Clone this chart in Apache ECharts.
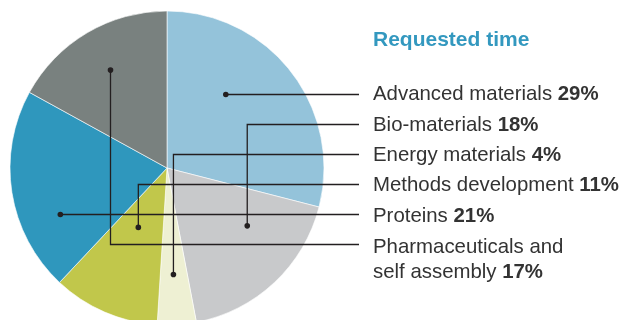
<!DOCTYPE html>
<html>
<head>
<meta charset="utf-8">
<script src="https://cdn.jsdelivr.net/npm/echarts@6/dist/echarts.min.js"></script>
<style>
  html, body { margin: 0; padding: 0; background: #fff; }
  #chart { width: 625px; height: 320px; }
</style>
</head>
<body>
<div id="chart"></div>
<script>
// Share of requested beam time by research field
const titleText = 'Requested time';
const categories = ['Advanced materials', 'Bio-materials', 'Energy materials', 'Methods development', 'Proteins', 'Pharmaceuticals and\nself assembly'];
const shares = [29, 18, 4, 11, 21, 17];

// Styling and callout layout
const colors = ['#94c3da', '#c8c9cb', '#eef0d3', '#c1c74b', '#2f97bd', '#79817f'];
const pieCenter = [167, 168];
const pieRadius = 157;
// where each callout dot sits inside its slice: [fraction across the slice, fraction of radius]
const dotAnchor = [[0.37, 0.60], [0.33, 0.63], [0.51, 0.68], [0.56, 0.42], [0.31, 0.74], [0.51, 0.72]];
const rowY = [94.5, 124.5, 154.5, 184.5, 214.5, 244.5];
const textShift = [0, 0.5, 1, 1, 1.5, 3];
const lineEndX = 359;
const labelX = 373;
const fontFamily = '"Liberation Sans", Arial, Helvetica, sans-serif';
const inkColor = '#333333';

const chart = echarts.init(document.getElementById('chart'), null, { renderer: 'canvas' });

const total = shares.reduce((a, b) => a + b, 0);
const graphics = [];

// Callout lines and dots, placed from the slice geometry
let acc = 0;
shares.forEach((v, i) => {
  const start = acc / total * 360;
  const span = v / total * 360;
  acc += v;
  const ang = (start + dotAnchor[i][0] * span) * Math.PI / 180; // clockwise from 12 o'clock
  const r = dotAnchor[i][1] * pieRadius;
  const dx = pieCenter[0] + r * Math.sin(ang);
  const dy = pieCenter[1] - r * Math.cos(ang);
  const y = rowY[i];
  const straight = Math.abs(dy - y) < 6;
  const pts = straight ? [[dx, y], [lineEndX, y]] : [[dx, dy], [dx, y], [lineEndX, y]];
  graphics.push({
    type: 'polyline', z: 10, silent: true,
    shape: { points: pts },
    style: { stroke: '#231f20', lineWidth: 1.3, fill: null }
  });
  graphics.push({
    type: 'circle', z: 11, silent: true,
    shape: { cx: dx, cy: straight ? y : dy, r: 2.8 },
    style: { fill: '#231f20' }
  });
  // Label text with bold percentage
  const lines = categories[i].split('\n');
  const txt = lines.map((l, k) => k === lines.length - 1 ? '{n|' + l + ' }{b|' + v + '%}' : '{n|' + l + '}').join('\n');
  graphics.push({
    type: 'text', z: 12, silent: true,
    x: labelX, y: y - 12.5 + textShift[i],
    style: {
      text: txt,
      verticalAlign: 'top',
      rich: {
        n: { fontFamily, fontSize: 20.4, fill: inkColor, lineHeight: 25 },
        b: { fontFamily, fontSize: 20.4, fontWeight: 'bold', fill: inkColor, lineHeight: 25 }
      }
    }
  });
});

chart.setOption({
  animation: false,
  title: {
    text: titleText,
    left: labelX - 5,
    top: 25,
    textStyle: { fontFamily, fontSize: 21, fontWeight: 'bold', color: '#3398bf' }
  },
  series: [{
    type: 'pie',
    center: pieCenter,
    radius: pieRadius,
    startAngle: 90,
    clockwise: true,
    silent: true,
    label: { show: false },
    labelLine: { show: false },
    itemStyle: { borderColor: '#ffffff', borderWidth: 0.6 },
    data: categories.map((c, i) => ({ name: c, value: shares[i], itemStyle: { color: colors[i] } }))
  }],
  graphic: graphics
});
</script>
</body>
</html>
